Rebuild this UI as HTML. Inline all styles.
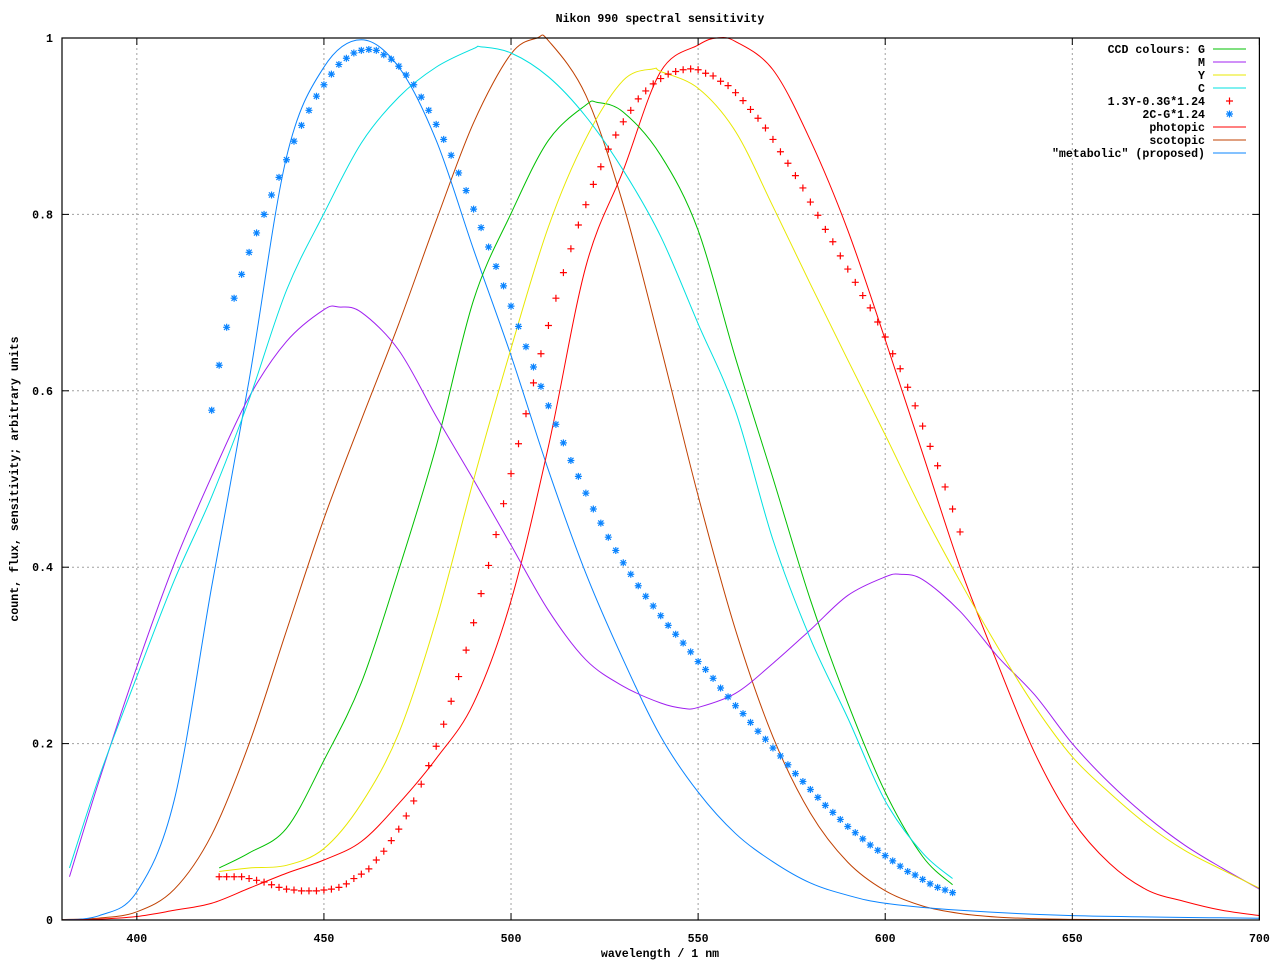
<!DOCTYPE html>
<html><head><meta charset="utf-8"><title>Nikon 990 spectral sensitivity</title>
<style>
html,body{margin:0;padding:0;background:#fff;}
svg{display:block;}
text{font-family:"Liberation Mono",monospace;font-size:11.6px;font-weight:bold;fill:#000;}
</style></head>
<body>
<svg id="chart" width="1280" height="960" viewBox="0 0 1280 960" xmlns="http://www.w3.org/2000/svg">
<rect x="0" y="0" width="1280" height="960" fill="#fff"/>
<text x="660" y="22" text-anchor="middle">Nikon 990 spectral sensitivity</text>
<text x="660" y="957" text-anchor="middle">wavelength / 1 nm</text>
<text transform="translate(18,479) rotate(-90)" text-anchor="middle">count, flux, sensitivity; arbitrary units</text>
<g id="grid"></g>
<g id="series"></g>
<g id="axes"></g>
<g id="legend"></g>
</svg>
<script>
// ---- data ----
const xTicks = [400, 450, 500, 550, 600, 650, 700];
const yTicks = [0, 0.2, 0.4, 0.6, 0.8, 1];
const yTickLabels = ["0", "0.2", "0.4", "0.6", "0.8", "1"];

const gWl = [422,430,440,450,460,470,480,490,500,510,520,523,530,540,550,560,570,580,590,600,610,618];
const gVal = [0.059,0.076,0.104,0.181,0.269,0.397,0.537,0.703,0.801,0.884,0.924,0.927,0.916,0.867,0.782,0.637,0.501,0.363,0.246,0.145,0.072,0.040];

const mWl = [382,390,400,410,420,430,440,450,454,460,470,480,490,500,510,520,530,540,546,550,560,570,580,590,600,604,610,620,630,640,650,660,670,680,690,700];
const mVal = [0.049,0.159,0.287,0.404,0.503,0.593,0.656,0.692,0.695,0.689,0.646,0.571,0.499,0.425,0.351,0.295,0.265,0.246,0.240,0.241,0.257,0.291,0.329,0.368,0.389,0.392,0.386,0.350,0.299,0.255,0.200,0.155,0.117,0.085,0.059,0.035];

const yWl = [422,430,440,450,460,470,480,490,500,510,520,530,538,540,550,560,570,580,590,600,610,620,630,640,650,660,670,680,690,700];
const yVal = [0.055,0.059,0.062,0.081,0.132,0.212,0.340,0.499,0.648,0.786,0.886,0.952,0.965,0.962,0.943,0.894,0.809,0.721,0.635,0.550,0.463,0.384,0.310,0.242,0.185,0.144,0.108,0.079,0.057,0.036];

const cWl = [382,390,400,410,420,430,440,450,460,470,480,490,492,500,510,520,530,540,550,560,570,580,590,600,610,618];
const cVal = [0.059,0.163,0.276,0.385,0.480,0.590,0.714,0.801,0.881,0.933,0.967,0.988,0.990,0.983,0.956,0.911,0.850,0.775,0.676,0.577,0.431,0.319,0.229,0.135,0.076,0.047];

const photWl = [380,390,400,410,420,430,440,450,460,470,480,490,500,510,520,530,540,550,555,560,570,580,590,600,610,620,630,640,650,660,670,680,690,700];
const photVal = [0,0.001,0.004,0.011,0.019,0.036,0.053,0.068,0.089,0.132,0.183,0.246,0.362,0.537,0.741,0.850,0.962,0.992,1.0,0.996,0.964,0.884,0.782,0.658,0.529,0.400,0.291,0.189,0.113,0.064,0.034,0.021,0.011,0.005];

const scotWl = [380,390,400,410,420,430,440,450,460,470,480,490,500,507,510,520,530,540,550,560,570,580,590,600,610,620,630,640,650,660,670,680,690,700];
const scotVal = [0.0006,0.0022,0.0093,0.0348,0.0966,0.1998,0.3281,0.455,0.567,0.676,0.793,0.904,0.982,1.0,0.997,0.935,0.811,0.650,0.481,0.3288,0.2076,0.1212,0.0655,0.0332,0.0159,0.0074,0.0033,0.0015,0.0007,0.0003,0.0001,0.0001,0,0];

const metWl = [380,390,400,410,420,430,440,450,460,470,480,490,500,510,520,530,540,550,560,570,580,590,600,620,650,700];
const metVal = [0,0.005,0.032,0.136,0.378,0.612,0.865,0.967,0.998,0.967,0.884,0.760,0.640,0.510,0.393,0.295,0.208,0.145,0.098,0.066,0.042,0.028,0.019,0.011,0.005,0.002];

// red crosses: 1.3Y-0.3G*1.24, from 422 nm step 2
const crossStart = 422;
const crossVal = [0.049,0.049,0.049,0.049,0.047,0.045,0.043,0.040,0.037,0.035,0.034,0.033,0.033,0.033,0.034,0.035,0.037,0.041,0.047,0.052,0.058,0.068,0.078,0.090,0.103,0.118,0.135,0.154,0.175,0.197,0.222,0.248,0.276,0.306,0.337,0.370,0.402,0.437,0.472,0.506,
0.540,0.574,0.609,0.642,0.674,0.705,0.734,0.761,0.788,0.811,0.834,0.854,0.874,0.890,0.905,0.918,0.931,0.940,0.948,0.954,0.959,0.962,0.964,0.965,0.964,0.960,0.957,0.951,0.946,0.938,0.929,0.919,0.909,0.898,0.885,0.871,0.858,0.844,0.830,0.814,0.799,0.783,0.769,0.753,0.738,0.723,0.708,0.694,0.678,0.661,0.642,0.625,0.604,0.583,0.560,0.537,0.515,0.491,0.466,0.440];

// blue stars: 2C-G*1.24, from 420 nm step 2
const starStart = 420;
const starVal = [0.578,0.629,0.672,0.705,0.732,0.757,0.779,0.800,0.822,0.842,0.862,0.883,0.901,0.918,0.934,0.947,0.959,0.970,0.977,0.983,0.986,0.987,0.986,0.981,0.976,0.968,0.958,0.947,0.933,0.918,0.902,0.885,0.867,0.847,0.827,0.806,0.785,0.763,0.741,0.719,0.696,0.673,
0.650,0.627,0.605,0.583,0.562,0.541,0.521,0.503,
0.484,0.466,0.450,0.434,0.419,0.405,0.392,0.379,0.367,0.356,0.345,0.334,0.324,0.314,0.304,0.293,0.284,0.274,0.263,0.253,0.243,0.234,0.224,0.214,0.205,0.195,0.186,0.176,0.166,0.157,0.148,0.139,0.130,0.122,0.114,0.106,0.099,0.092,0.085,0.079,0.073,0.067,0.061,0.055,0.051,0.046,0.041,0.037,0.034,0.031];

// ---- axes ----
const X0 = 62, X1 = 1259.4, Y0 = 920, Y1 = 38;
const xMin = 380, xMax = 700, yMin = 0, yMax = 1;
function xs(v){ return X0 + (v - xMin) / (xMax - xMin) * (X1 - X0); }
function ys(v){ return Y0 - (v - yMin) / (yMax - yMin) * (Y0 - Y1); }

const NS = "http://www.w3.org/2000/svg";
function mk(tag, attrs, parent){
  const e = document.createElementNS(NS, tag);
  for (const k in attrs) e.setAttribute(k, attrs[k]);
  parent.appendChild(e);
  return e;
}
const grid = document.getElementById('grid');
const axes = document.getElementById('axes');
const series = document.getElementById('series');
const legend = document.getElementById('legend');

// grid lines
xTicks.forEach(t => {
  if (t <= xMin || t >= xMax) return;
  const l = mk('line', {x1: xs(t), x2: xs(t), y1: Y0, y2: Y1, stroke: '#a0a0a0', 'stroke-width': 1, 'stroke-dasharray': '2,3'}, grid);
  
  
});
yTicks.forEach(t => {
  if (t <= yMin || t >= yMax) return;
  const l = mk('line', {x1: X0, x2: X1, y1: ys(t), y2: ys(t), stroke: '#a0a0a0', 'stroke-width': 1, 'stroke-dasharray': '2,3'}, grid);
  
  
});

// frame
const frame = mk('rect', {x: X0, y: Y1, width: X1 - X0, height: Y0 - Y1, fill: 'none', stroke: '#000', 'stroke-width': 1.2}, axes);



// ticks + labels
xTicks.forEach(t => {
  const x = xs(t);
  const a = mk('line', {x1: x, x2: x, y1: Y0, y2: Y0 - 7, stroke: '#000', 'stroke-width': 1}, axes);
  
  
  const b = mk('line', {x1: x, x2: x, y1: Y1, y2: Y1 + 7, stroke: '#000', 'stroke-width': 1}, axes);
  
  
  const tx = mk('text', {x: x, y: 942, 'text-anchor': 'middle'}, axes);
  tx.textContent = String(t);
  
  
});
yTicks.forEach((t, i) => {
  const y = ys(t);
  const a = mk('line', {x1: X0, x2: X0 + 7, y1: y, y2: y, stroke: '#000', 'stroke-width': 1}, axes);
  
  
  const b = mk('line', {x1: X1, x2: X1 - 7, y1: y, y2: y, stroke: '#000', 'stroke-width': 1}, axes);
  
  
  const tx = mk('text', {x: 53, y: y + 4, 'text-anchor': 'end'}, axes);
  tx.textContent = yTickLabels[i];
  
  
});

// smooth path (Catmull-Rom)
function smoothPath(wl, val){
  const p = wl.map((w, i) => [xs(w), ys(val[i])]);
  let d = 'M' + p[0][0].toFixed(2) + ',' + p[0][1].toFixed(2);
  for (let i = 0; i < p.length - 1; i++){
    const p0 = p[i - 1] || p[i], p1 = p[i], p2 = p[i + 1], p3 = p[i + 2] || p2;
    const c1 = [p1[0] + (p2[0] - p0[0]) / 6, p1[1] + (p2[1] - p0[1]) / 6];
    const c2 = [p2[0] - (p3[0] - p1[0]) / 6, p2[1] - (p3[1] - p1[1]) / 6];
    d += 'C' + c1[0].toFixed(2) + ',' + c1[1].toFixed(2) + ' ' + c2[0].toFixed(2) + ',' + c2[1].toFixed(2) + ' ' + p2[0].toFixed(2) + ',' + p2[1].toFixed(2);
  }
  return d;
}

const colG = '#00c000', colM = '#a020f0', colY = '#e8e800', colC = '#00e0e0',
      colRed = '#ff0000', colBlue = '#0a84ff', colScot = '#c04000';

function drawLine(wl, val, color, name){
  const p = mk('path', {d: smoothPath(wl, val), fill: 'none', stroke: color, 'stroke-width': 1}, series);
  
  
}
drawLine(scotWl, scotVal, colScot, 'scotopic-line');
drawLine(metWl, metVal, colBlue, 'metabolic-line');
drawLine(photWl, photVal, colRed, 'photopic-line');
drawLine(gWl, gVal, colG, 'ccd-g-line');
drawLine(mWl, mVal, colM, 'ccd-m-line');
drawLine(yWl, yVal, colY, 'ccd-y-line');
drawLine(cWl, cVal, colC, 'ccd-c-line');

function crossD(x, y, s){ return 'M' + (x - s) + ',' + y + 'H' + (x + s) + 'M' + x + ',' + (y - s) + 'V' + (y + s); }
function starD(x, y, s){ const k = s * 0.75; return crossD(x, y, s) + 'M' + (x - k) + ',' + (y - k) + 'L' + (x + k) + ',' + (y + k) + 'M' + (x - k) + ',' + (y + k) + 'L' + (x + k) + ',' + (y - k); }

crossVal.forEach((v, i) => {
  const w = crossStart + 2 * i;
  const p = mk('path', {d: crossD(xs(w), ys(v), 3.5), stroke: colRed, 'stroke-width': 1.2, fill: 'none'}, series);
  
  
});
starVal.forEach((v, i) => {
  const w = starStart + 2 * i;
  const p = mk('path', {d: starD(xs(w), ys(v), 3.5), stroke: colBlue, 'stroke-width': 1.2, fill: 'none'}, series);
  
  
});

// legend
const legendLabels = ['CCD colours: G', 'M', 'Y', 'C', '1.3Y-0.3G*1.24', '2C-G*1.24', 'photopic', 'scotopic', '"metabolic" (proposed)'];
const legendColors = [colG, colM, colY, colC, colRed, colBlue, colRed, colScot, colBlue];
const legendKinds = ['line', 'line', 'line', 'line', 'cross', 'star', 'line', 'line', 'line'];
legendLabels.forEach((lab, i) => {
  const y = 49 + 13 * i;
  const t = mk('text', {x: 1205, y: y + 4, 'text-anchor': 'end'}, legend);
  t.textContent = lab;
  
  
  let s;
  if (legendKinds[i] === 'line') {
    s = mk('line', {x1: 1213, x2: 1246, y1: y, y2: y, stroke: legendColors[i], 'stroke-width': 1}, legend);
  } else if (legendKinds[i] === 'cross') {
    s = mk('path', {d: crossD(1229.5, y, 3.5), stroke: legendColors[i], 'stroke-width': 1.2}, legend);
  } else {
    s = mk('path', {d: starD(1229.5, y, 3.5), stroke: legendColors[i], 'stroke-width': 1.2}, legend);
  }
  
  
});
</script>
</body></html>
